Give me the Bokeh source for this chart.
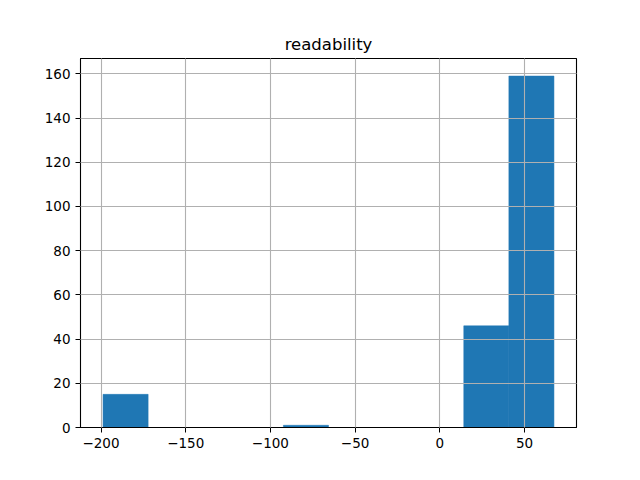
from bokeh.plotting import figure
from bokeh.models import FixedTicker, Range1d
from bokeh.embed import file_html
from bokeh.resources import INLINE

# histogram of "readability": bin edges and counts
bin_edges = [-198.8, -172.18, -145.56, -118.94, -92.32, -65.7, -39.08, -12.46, 14.16, 40.78, 67.4]
counts = [15, 0, 0, 0, 1, 0, 0, 0, 46, 159]
x_ticks = [-200, -150, -100, -50, 0, 50]
y_ticks = [0, 20, 40, 60, 80, 100, 120, 140, 160]

left = bin_edges[:-1]
right = bin_edges[1:]
span = bin_edges[-1] - bin_edges[0]

p = figure(width=624, height=464, output_backend="svg", toolbar_location=None,
           title="readability",
           x_range=Range1d(bin_edges[0] - 0.05 * span, bin_edges[-1] + 0.05 * span),
           y_range=Range1d(0, max(counts) * 1.05),
           min_border_left=80, min_border_right=48, min_border_top=58, min_border_bottom=37)

p.quad(left=left, right=right, bottom=0, top=counts, fill_color="#1f77b4",
       line_color="#1f77b4", line_width=0.5)

p.title.align = "center"
p.title.text_font = "DejaVu Sans"
p.title.text_font_style = "normal"
p.title.text_font_size = "16.5px"
p.title.text_color = "black"
p.title.standoff = 10

p.outline_line_color = "black"
p.outline_line_width = 1.1
p.outline_line_alpha = 1

for ax in (p.xaxis[0], p.yaxis[0]):
    ax.axis_line_color = "black"
    ax.major_tick_line_color = "black"
    ax.major_tick_out = 5
    ax.major_tick_in = 0
    ax.minor_tick_line_color = None
    ax.major_label_text_font = "DejaVu Sans"
    ax.major_label_text_font_size = "13.5px"
    ax.major_label_text_color = "black"
    ax.major_label_standoff = 5

p.xaxis[0].ticker = FixedTicker(ticks=x_ticks)
p.yaxis[0].ticker = FixedTicker(ticks=y_ticks)

for g in (p.xgrid[0], p.ygrid[0]):
    g.grid_line_color = "#b0b0b0"
    g.grid_line_width = 1.1
    g.level = "overlay"
p.xgrid[0].ticker = FixedTicker(ticks=x_ticks)
p.ygrid[0].ticker = FixedTicker(ticks=y_ticks)

open("out.html", "w").write(file_html(p, INLINE))
